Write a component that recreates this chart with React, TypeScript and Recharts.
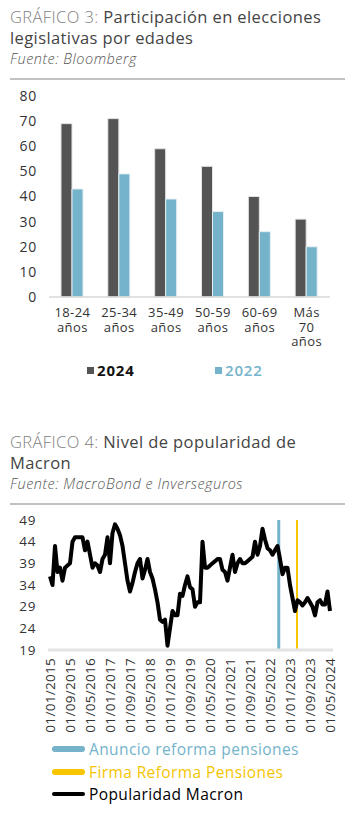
import React from 'react';
import { BarChart, Bar, XAxis, YAxis, Legend, LineChart, Line, ReferenceLine } from 'recharts';

const FONT = '"Open Sans", sans-serif';

// Gráfico 3: participación por edades
const ageGroups = ['18-24\naños', '25-34\naños', '35-49\naños', '50-59\naños', '60-69\naños', 'Más\n70\naños'];
const turnout2024 = [69, 71, 59, 52, 40, 31];
const turnout2022 = [43, 49, 39, 34, 26, 20];
const turnoutTicks = [0, 10, 20, 30, 40, 50, 60, 70, 80];

// Gráfico 4: popularidad de Macron (mensual desde 2015-01)
const popularityStart = '2015-01';
const popularity = [
  36, 34, 43, 37, 38, 35, 38, 38.5, 39, 44, 45, 45,
  45, 45, 42, 44, 41, 38, 39, 38.5, 37, 40, 41, 45,
  39, 46, 48, 47, 45.5, 43, 39, 35, 32.5, 34.5, 37, 39,
  40, 35.5, 37.5, 40, 37, 35.5, 33, 30, 26, 25.5, 26, 20,
  24, 28, 27, 27, 32, 31.5, 34, 36, 33.5, 33, 29, 30,
  30, 44, 38, 38, 38.5, 39, 39.5, 40, 40, 37.5, 37, 35,
  38, 41, 37, 39, 40, 39, 39, 39.5, 40, 40.5, 44, 41,
  43, 47, 44.5, 42.5, 42, 41, 42, 43, 40, 36.5, 38, 38,
  34, 31, 28, 30.5, 30, 29.3, 30, 31, 30, 29, 27, 30,
  30.5, 29.5, 29.5, 32.5, 28,
];
const dateTicks = [
  '2015-01', '2015-09', '2016-05', '2017-01', '2017-09', '2018-05', '2019-01', '2019-09',
  '2020-05', '2021-01', '2021-09', '2022-05', '2023-01', '2023-09', '2024-05',
];
const popularityTicks = [19, 24, 29, 34, 39, 44, 49];
const announceDate = '2022-08-16';
const signDate = '2023-03-25';

const [startY, startM] = popularityStart.split('-').map(Number);
const monthIndex = (s: string) => {
  const [y, m, d] = s.split('-').map(Number);
  return (y - startY) * 12 + (m - startM) + (d ? (d - 1) / 30 : 0);
};
const monthLabel = (idx: number) => {
  const total = startY * 12 + (startM - 1) + idx;
  const y = Math.floor(total / 12);
  const m = (total % 12) + 1;
  return `01/${String(m).padStart(2, '0')}/${y}`;
};

const barData = ageGroups.map((g, i) => ({ group: g, y2024: turnout2024[i], y2022: turnout2022[i] }));
const lineData = popularity.map((v, i) => ({ t: i, value: v }));

// etiquetas de edad en varias líneas, una <text> por línea
const AgeTick = (props: any) => {
  const { x, y, payload } = props;
  const lines = String(payload.value).split('\n');
  return (
    <g>
      {lines.map((l, i) => (
        <text key={i} x={x} y={y + 20 + i * 14.5} textAnchor="middle" fill="#333" fontSize={13} fontFamily={FONT} letterSpacing={0.4}>
          {l}
        </text>
      ))}
    </g>
  );
};

const DateTick = (props: any) => {
  const { x, y, payload } = props;
  return (
    <g transform={`translate(${x},${y})`}>
      <text x={-8} y={0} transform="rotate(-90)" textAnchor="end" dominantBaseline="central" fill="#333" fontSize={13.5} fontFamily={FONT} letterSpacing={0.3}>
        {monthLabel(payload.value)}
      </text>
    </g>
  );
};

const BarLegend = () => (
  <div style={{ position: 'relative', height: 38, width: 355, fontFamily: FONT }}>
    <div style={{ position: 'absolute', left: 87, top: 15, width: 7, height: 7, background: '#545454' }} />
    <div style={{ position: 'absolute', left: 97, top: 7, fontSize: 15, fontWeight: 700, color: '#111', lineHeight: '22px', letterSpacing: 0.8 }}>2024</div>
    <div style={{ position: 'absolute', left: 215, top: 15, width: 7, height: 7, background: '#74b3ca' }} />
    <div style={{ position: 'absolute', left: 225, top: 7, fontSize: 15, fontWeight: 600, color: '#74b3ca', lineHeight: '22px', letterSpacing: 0.8 }}>2022</div>
  </div>
);

const lineLegendItems = [
  { label: 'Anuncio reforma pensiones', color: '#74b3ca', text: '#74b3ca', h: 6 },
  { label: 'Firma Reforma Pensiones', color: '#f7c600', text: '#f5c400', h: 6 },
  { label: 'Popularidad Macron', color: '#000', text: '#000', h: 4 },
];

const LineLegend = () => (
  <div style={{ position: 'relative', height: 70, width: 355, fontFamily: FONT }}>
    {lineLegendItems.map((it, i) => {
      const cy = 9 + i * 22.5;
      return (
        <React.Fragment key={it.label}>
          <div style={{ position: 'absolute', left: 52, top: cy - it.h / 2, width: 33, height: it.h, background: it.color, borderRadius: it.h / 2 }} />
          <div style={{ position: 'absolute', left: 89, top: cy - 11, fontSize: 15.5, fontWeight: 500, color: it.text, lineHeight: '22px', whiteSpace: 'nowrap', letterSpacing: 0.4 }}>{it.label}</div>
        </React.Fragment>
      );
    })}
  </div>
);

const Title = ({ top, lead, rest, rest2, source }: { top: number; lead: string; rest: string; rest2: string; source: string }) => (
  <div style={{ position: 'absolute', left: 10, top, width: 345, fontFamily: FONT }}>
    <div style={{ fontSize: 16.5, lineHeight: '21px', color: '#444', letterSpacing: 0.4, whiteSpace: 'nowrap' }}>
      <span style={{ color: '#808080', fontWeight: 300 }}>{lead}</span> {rest}
    </div>
    <div style={{ fontSize: 16.5, lineHeight: '21px', color: '#444', letterSpacing: 0.4 }}>{rest2}</div>
    <div style={{ fontSize: 14.5, lineHeight: '22px', color: '#555', fontStyle: 'italic', fontWeight: 300, letterSpacing: 0.5, whiteSpace: 'nowrap' }}>{source}</div>
    <div style={{ marginTop: 8, width: 335, height: 1.5, background: '#c2c2c2' }} />
  </div>
);

export default function App() {
  return (
    <div style={{ position: 'fixed', left: 0, top: 0, width: 355, height: 813, background: '#fff', overflow: 'hidden' }}>
      <Title top={6} lead="GRÁFICO 3:" rest="Participación en elecciones" rest2="legislativas por edades" source="Fuente: Bloomberg" />
      <div style={{ position: 'absolute', left: 0, top: 80 }}>
        <BarChart width={355} height={310} data={barData} margin={{ top: 16, right: 25, bottom: 0, left: 9 }} barGap={0} barCategoryGap={0}>
          <XAxis dataKey="group" tick={<AgeTick />} tickLine={false} tickSize={0} tickMargin={0} height={55} interval={0} axisLine={{ stroke: '#d9d9d9', strokeWidth: 1.5 }} />
          <YAxis domain={[0, 80]} ticks={turnoutTicks} width={40} axisLine={false} tickLine={false} tickSize={0} tickMargin={12} tick={{ fill: '#333', fontSize: 14, fontFamily: FONT, letterSpacing: 0.8 }} />
          <Legend verticalAlign="bottom" content={<BarLegend />} wrapperStyle={{ left: 0, width: 355 }} />
          <Bar dataKey="y2024" name="2024" fill="#545454" stroke="#e4e4e4" strokeWidth={1} barSize={11} isAnimationActive={false} />
          <Bar dataKey="y2022" name="2022" fill="#74b3ca" stroke="#e4eef2" strokeWidth={1} barSize={11} isAnimationActive={false} />
        </BarChart>
      </div>
      <Title top={431} lead="GRÁFICO 4:" rest="Nivel de popularidad de" rest2="Macron" source="Fuente: MacroBond e Inverseguros" />
      <div style={{ position: 'absolute', left: 0, top: 505 }}>
        <LineChart width={355} height={305} data={lineData} margin={{ top: 15, right: 22, bottom: 0, left: 8 }}>
          <XAxis dataKey="t" type="number" domain={[-0.8, 113.2]} ticks={dateTicks.map((d) => monthIndex(d))} interval={0} tick={<DateTick />} tickLine={false} tickSize={0} tickMargin={0} height={90} axisLine={{ stroke: '#e3e3e3', strokeWidth: 3 }} />
          <YAxis domain={[19, 49]} ticks={popularityTicks} width={40} axisLine={false} tickLine={false} tickSize={0} tickMargin={12} tick={{ fill: '#333', fontSize: 13.5, fontFamily: FONT, letterSpacing: 0.6 }} allowDataOverflow />
          <Legend verticalAlign="bottom" content={<LineLegend />} wrapperStyle={{ left: 0, width: 355 }} />
          <ReferenceLine x={monthIndex(announceDate)} stroke="#74b3ca" strokeWidth={3} />
          <ReferenceLine x={monthIndex(signDate)} stroke="#f7c600" strokeWidth={2} />
          <Line dataKey="value" stroke="#000" strokeWidth={4} dot={false} type="linear" isAnimationActive={false} strokeLinejoin="round" />
        </LineChart>
      </div>
    </div>
  );
}
